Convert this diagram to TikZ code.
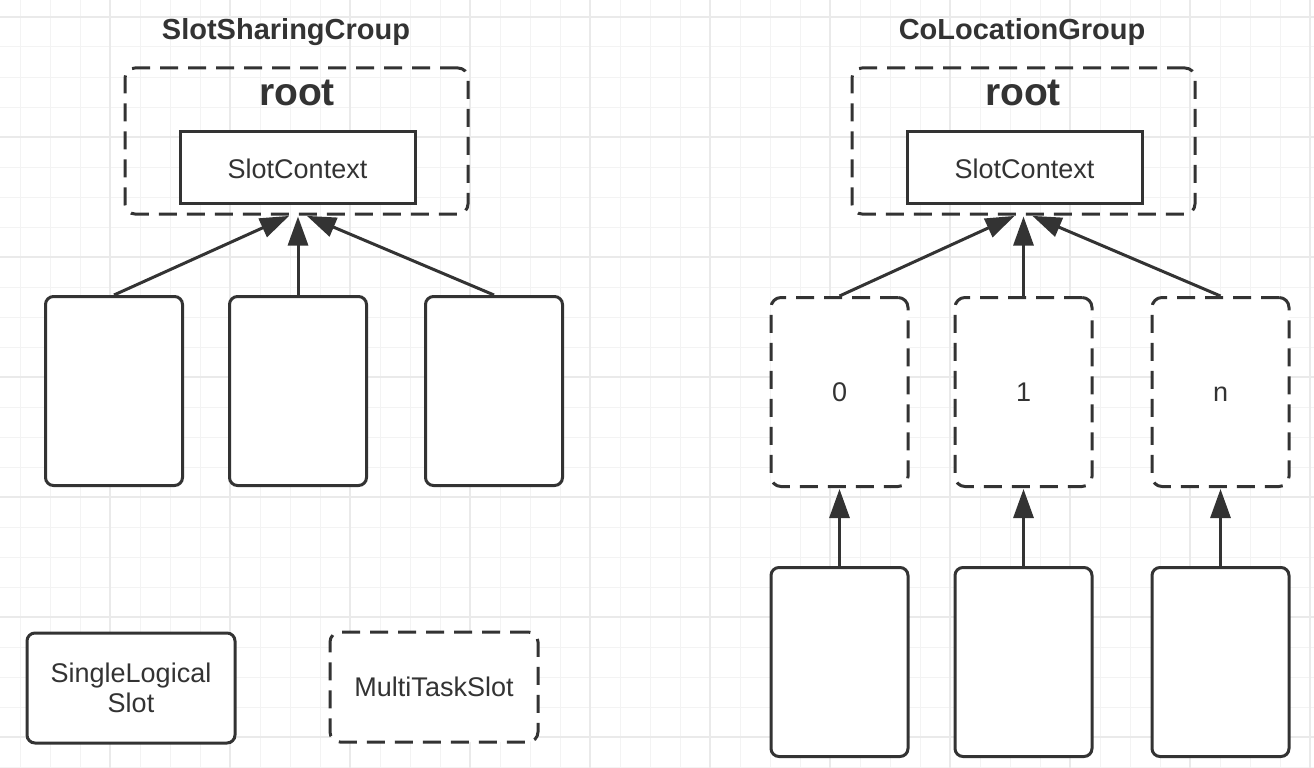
\documentclass[tikz,border=0pt]{standalone}
\usepackage{fontspec}
\setmainfont{Liberation Sans}
\usetikzlibrary{arrows.meta,calc}
\definecolor{ink}{HTML}{333333}
\definecolor{gridminor}{HTML}{F3F3F3}
\definecolor{gridmajor}{HTML}{EAEAEA}
\tikzset{
  box/.style={draw=ink, line width=3pt, fill=white, rectangle, inner sep=0pt, font=\fontsize{27}{30}\selectfont, text=ink},
  solidbox/.style={box, rounded corners=8pt},
  dashbox/.style={box, rounded corners=10pt, dash pattern=on 18pt off 10pt},
  ctxbox/.style={box, minimum width=235pt, minimum height=72pt, text height=23pt, text depth=0pt},
  rootbox/.style={dashbox, minimum width=343pt, minimum height=146pt, fill=none},
  colbox/.style={minimum width=137pt, minimum height=189pt},
  numlabel/.style={text height=19pt, text depth=0pt},
  titletext/.style={font=\fontsize{29}{34}\selectfont\bfseries, text=ink, anchor=base, inner sep=0pt},
  roottext/.style={font=\fontsize{39}{44}\selectfont\bfseries, text=ink, anchor=base, inner sep=0pt},
  arr/.style={draw=ink, line width=3pt, -{Triangle[length=29pt,width=20pt]}, shorten >=1pt},
  gminor/.style={draw=gridminor, line width=1pt},
  gmajor/.style={draw=gridmajor, line width=1.2pt},
}
\begin{document}
\begin{tikzpicture}[x=1pt,y=-1pt]
\useasboundingbox (0,0) rectangle (1314,768);
\fill[white] (0,0) rectangle (1314,768);
% grid
\foreach \x in {20,50,...,1310} \draw[gminor] (\x,0) -- (\x,768);
\foreach \y in {17,47,...,767} \draw[gminor] (0,\y) -- (1314,\y);
\foreach \x in {110,230,...,1310} \draw[gmajor] (\x,0) -- (\x,768);
\foreach \y in {17,137,...,737} \draw[gmajor] (0,\y) -- (1314,\y);

% ---------- left: SlotSharingGroup ----------
\node[titletext] (titleL) at (286,40) {SlotSharingCroup};
\node[rootbox] (rootL) at (296.5,141) {};
\node[roottext] (rootLt) at (297,105) {root};
\node[ctxbox] (ctxL) at (297.5,167) {SlotContext};

\node[solidbox, colbox] (l1) at (114,391) {};
\node[solidbox, colbox] (l2) at (298,391) {};
\node[solidbox, colbox] (l3) at (494,391) {};

\draw[arr] (l1.north) -- ([xshift=-8pt]l2.north |- rootL.south);
\draw[arr] (l2.north) -- (l2.north |- rootL.south);
\draw[arr] (l3.north) -- ([xshift=8pt]l2.north |- rootL.south);

% legend
\node[solidbox, minimum width=208pt, minimum height=110pt, align=center] (single) at (131,688) {SingleLogical\\Slot};
\node[dashbox, minimum width=208pt, minimum height=110pt] (multi) at (434,687) {MultiTaskSlot};

% ---------- right: CoLocationGroup ----------
\node[titletext] (titleR) at (1022,40) {CoLocationGroup};
\node[rootbox] (rootR) at (1023.5,141) {};
\node[roottext] (rootRt) at (1023,105) {root};
\node[ctxbox] (ctxR) at (1024.5,167) {SlotContext};

\node[dashbox, colbox, numlabel] (d0) at (839.5,392) {0};
\node[dashbox, colbox, numlabel] (d1) at (1023.5,392) {1};
\node[dashbox, colbox, numlabel] (dn) at (1220.5,392) {n};

\node[solidbox, colbox] (b0) at (839.5,662) {};
\node[solidbox, colbox] (b1) at (1023.5,662) {};
\node[solidbox, colbox] (bn) at (1220.5,662) {};

\draw[arr] (d0.north) -- ([xshift=-8pt]d1.north |- rootR.south);
\draw[arr] (d1.north) -- (d1.north |- rootR.south);
\draw[arr] (dn.north) -- ([xshift=8pt]d1.north |- rootR.south);

\draw[arr] (b0.north) -- (d0.south);
\draw[arr] (b1.north) -- (d1.south);
\draw[arr] (bn.north) -- (dn.south);
\end{tikzpicture}
\end{document}
